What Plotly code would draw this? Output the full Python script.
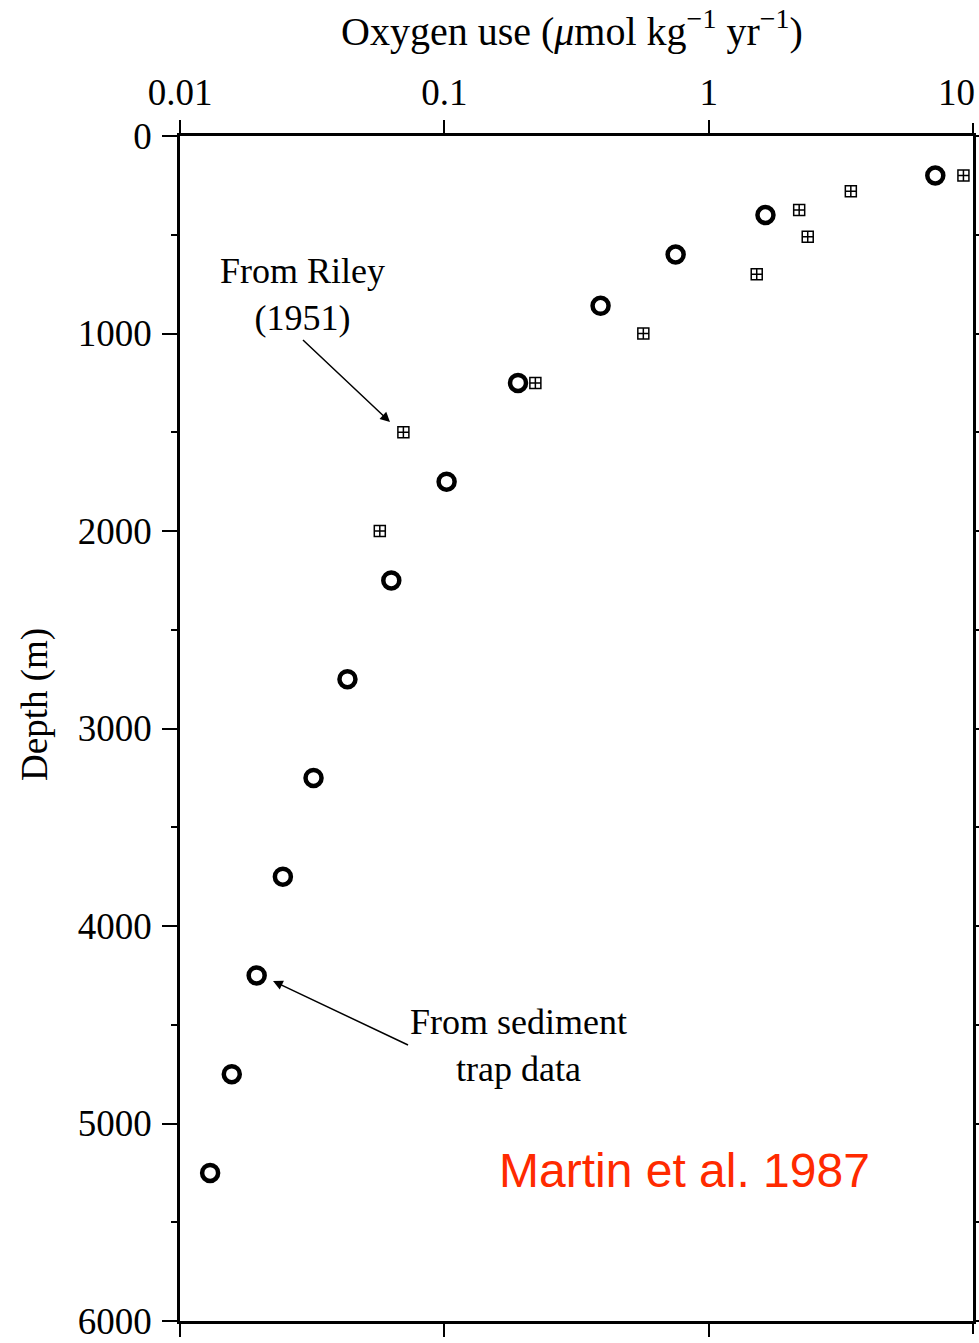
import plotly.graph_objects as go

# Sediment trap data (Martin et al. 1987): oxygen use vs depth
trap_oxygen = [7.2, 1.64, 0.75, 0.39, 0.19, 0.102, 0.063, 0.043, 0.032, 0.0245, 0.0195, 0.0157, 0.013]
trap_depth = [200, 400, 600, 860, 1250, 1750, 2250, 2750, 3250, 3750, 4250, 4750, 5250]

# Riley (1951) estimates
riley_oxygen = [9.2, 3.45, 2.2, 2.37, 1.52, 0.566, 0.221, 0.070, 0.057]
riley_depth = [200, 280, 375, 510, 700, 1000, 1250, 1500, 2000]

x_tickvals = [0.01, 0.1, 1]
x_ticktext = ["0.01", "0.1", "1"]
x_edge_label = "10"
y_tickvals = [0, 1000, 2000, 3000, 4000, 5000, 6000]

SERIF = "Liberation Serif"

fig = go.Figure()
fig.add_trace(go.Scatter(
    x=riley_oxygen, y=riley_depth, mode="markers",
    marker=dict(symbol="square-cross-open", size=11, color="black",
                line=dict(width=1.5, color="black")),
    showlegend=False,
))
fig.add_trace(go.Scatter(
    x=trap_oxygen, y=trap_depth, mode="markers",
    marker=dict(symbol="circle-open", size=16, color="black",
                line=dict(width=4.5, color="black")),
    showlegend=False,
))

fig.update_layout(
    width=979, height=1343, autosize=False,
    margin=dict(l=180, r=6, t=136, b=22),
    plot_bgcolor="white", paper_bgcolor="white",
    font=dict(family=SERIF, color="black", size=36),
    xaxis=dict(
        type="log", range=[-2, 1], side="top", automargin=False,
        tickvals=x_tickvals, ticktext=x_ticktext, ticklabeloverflow="allow",
        ticks="outside", ticklen=13, tickwidth=2, tickcolor="black",
        showline=True, linewidth=2.5, linecolor="black", mirror="ticks",
        showgrid=False, zeroline=False,
        tickfont=dict(family=SERIF, size=37),
    ),
    yaxis=dict(
        range=[6000, 0], tickvals=y_tickvals, automargin=False,
        ticklabeloverflow="allow", ticklabelstandoff=3,
        ticks="outside", ticklen=15, tickwidth=2, tickcolor="black",
        minor=dict(dtick=500, tick0=0, ticks="outside", ticklen=6,
                   tickwidth=2, tickcolor="black", showgrid=False),
        showline=True, linewidth=2.5, linecolor="black", mirror="ticks",
        showgrid=False, zeroline=False,
        tickfont=dict(family=SERIF, size=37),
    ),
)

# ticks at x = 10 on the right-hand edge (top and bottom)
fig.add_shape(type="line", xref="paper", yref="paper", x0=1, x1=1, y0=1, y1=1.011,
              line=dict(color="black", width=2))
fig.add_shape(type="line", xref="paper", yref="paper", x0=1, x1=1, y0=0, y1=-0.011,
              line=dict(color="black", width=2))

annotations = [
    dict(text=x_edge_label, xref="paper", yref="paper", x=1, y=1.0371,
         xanchor="right", yanchor="middle", xshift=4, showarrow=False,
         font=dict(family=SERIF, size=37)),
    dict(text="Oxygen use (<i>μ</i>mol kg<sup>−1</sup> yr<sup>−1</sup>)",
         xref="paper", yref="paper", x=0.494, y=1.0911,
         xanchor="center", yanchor="middle", showarrow=False,
         font=dict(family=SERIF, size=40)),
    dict(text="Depth (m)", xref="paper", yref="paper", x=-0.1829, y=0.5207,
         xanchor="center", yanchor="middle", textangle=-90, showarrow=False,
         font=dict(family=SERIF, size=37)),
    dict(text="From Riley<br>(1951)", xref="paper", yref="paper",
         x=0.2648, y=0.7586, ax=-87, ay=-82,
         xanchor="center", yanchor="bottom",
         showarrow=True, arrowhead=2, arrowsize=1.3,
         arrowwidth=1.5, arrowcolor="black",
         font=dict(family=SERIF, size=36)),
    dict(text="From sediment<br>trap data", xref="paper", yref="paper",
         x=0.1173, y=0.2869, ax=135, ay=64,
         xanchor="left", yanchor="middle",
         showarrow=True, arrowhead=2, arrowsize=1.3,
         arrowwidth=1.5, arrowcolor="black",
         font=dict(family=SERIF, size=36)),
    dict(text="Martin et al. 1987", xref="paper", yref="paper",
         x=0.6368, y=0.1274, xanchor="center", yanchor="middle",
         showarrow=False, font=dict(family="Liberation Sans", size=48, color="#ff2a00")),
]
fig.update_layout(annotations=annotations)

fig.write_html("out.html")
